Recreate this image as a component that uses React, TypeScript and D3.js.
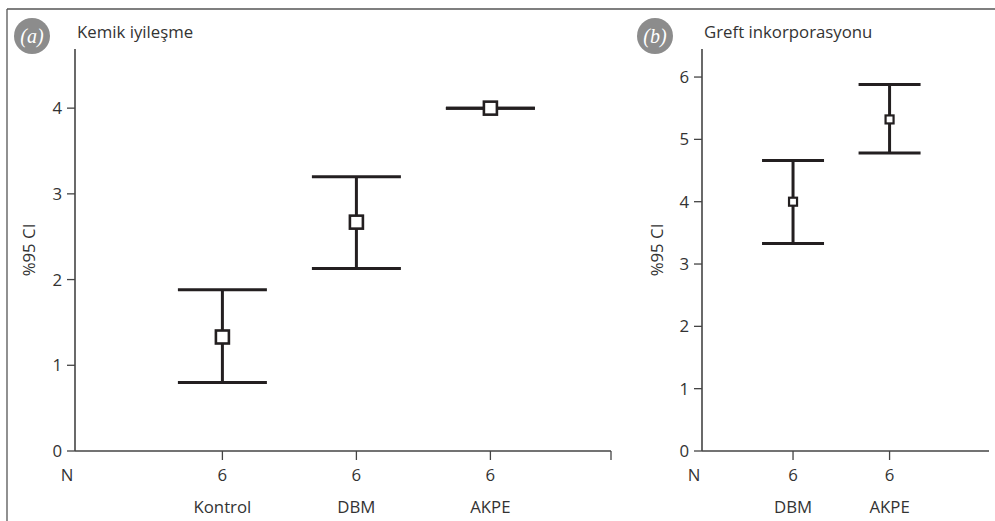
import React, { useEffect, useRef } from 'react';
import * as d3 from 'd3';

// panel (a) Kemik iyileşme
const catsA = ['Kontrol', 'DBM', 'AKPE'];
const nA = [6, 6, 6];
const meanA = [1.33, 2.67, 4.0];
const lowA = [0.8, 2.13, 4.0];
const highA = [1.88, 3.2, 4.0];
const ticksA = [0, 1, 2, 3, 4];

// panel (b) Greft inkorporasyonu
const catsB = ['DBM', 'AKPE'];
const nB = [6, 6];
const meanB = [4.0, 5.32];
const lowB = [3.33, 4.78];
const highB = [4.66, 5.88];
const ticksB = [0, 1, 2, 3, 4, 5, 6];

const FONT = '"Open Sans", "Noto Sans", sans-serif';
const FS = 16.8;
const AXIS = '#444';
const INK = '#231f20';

function drawPanel(svg, p) {
    let g = svg.append('g');

    let x = d3.scaleLinear().domain(p.xDomain).range([p.left, p.right]);
    let y = d3.scaleLinear().domain(p.yDomain).range([p.bottom, p.top]);

    // badge
    g.append('circle')
        .attr('cx', p.badgeX).attr('cy', 36).attr('r', 18)
        .attr('fill', '#8c8c8c');
    g.append('text')
        .attr('x', p.badgeX).attr('y', 43)
        .attr('text-anchor', 'middle')
        .attr('font-family', 'Liberation Serif, serif')
        .attr('font-style', 'italic')
        .attr('font-size', 20)
        .attr('fill', '#fff')
        .text(p.badge);

    // title
    g.append('text')
        .attr('x', p.left + 2).attr('y', 38)
        .attr('font-family', FONT).attr('font-size', FS).attr('fill', '#333')
        .text(p.title);

    // y axis
    g.append('line')
        .attr('x1', p.left).attr('x2', p.left)
        .attr('y1', p.top).attr('y2', p.bottom)
        .attr('stroke', AXIS).attr('stroke-width', 1.6);
    p.yTicks.forEach(t => {
        g.append('line')
            .attr('x1', p.left - 8).attr('x2', p.left)
            .attr('y1', y(t)).attr('y2', y(t))
            .attr('stroke', AXIS).attr('stroke-width', 1.3);
        g.append('text')
            .attr('x', p.left - 13).attr('y', y(t) + 6)
            .attr('text-anchor', 'end')
            .attr('font-family', FONT).attr('font-size', FS).attr('fill', '#333')
            .text(t);
    });
    g.append('text')
        .attr('transform', 'translate(' + p.yLabelX + ',' + (p.bottom + p.top) / 2 + ') rotate(-90)')
        .attr('text-anchor', 'middle')
        .attr('font-family', FONT).attr('font-size', FS).attr('fill', '#333')
        .text('%95 CI');

    // x axis
    g.append('line')
        .attr('x1', p.left).attr('x2', p.right)
        .attr('y1', p.bottom).attr('y2', p.bottom)
        .attr('stroke', AXIS).attr('stroke-width', 1.6);
    if (p.endTick) {
        g.append('line')
            .attr('x1', p.right).attr('x2', p.right)
            .attr('y1', p.bottom).attr('y2', p.bottom + 9)
            .attr('stroke', AXIS).attr('stroke-width', 1.3);
    }
    g.append('text')
        .attr('x', p.left - 8).attr('y', p.bottom + 30)
        .attr('text-anchor', 'middle')
        .attr('font-family', FONT).attr('font-size', FS).attr('fill', '#333')
        .text('N');

    p.cats.forEach((c, i) => {
        let cx = x(i + 1);
        g.append('line')
            .attr('x1', cx).attr('x2', cx)
            .attr('y1', p.bottom).attr('y2', p.bottom + 9)
            .attr('stroke', AXIS).attr('stroke-width', 1.3);
        g.append('text')
            .attr('x', cx).attr('y', p.bottom + 30)
            .attr('text-anchor', 'middle')
            .attr('font-family', FONT).attr('font-size', FS).attr('fill', '#333')
            .text(p.n[i]);
        g.append('text')
            .attr('x', cx).attr('y', p.bottom + 62)
            .attr('text-anchor', 'middle')
            .attr('font-family', FONT).attr('font-size', FS).attr('fill', '#333')
            .text(c);

        // error bar
        let bar = g.append('g').attr('stroke', INK).attr('stroke-width', 3);
        bar.append('line')
            .attr('x1', cx).attr('x2', cx)
            .attr('y1', y(p.high[i])).attr('y2', y(p.low[i]));
        bar.append('line')
            .attr('x1', cx - p.cap).attr('x2', cx + p.cap)
            .attr('y1', y(p.high[i])).attr('y2', y(p.high[i]));
        bar.append('line')
            .attr('x1', cx - p.cap).attr('x2', cx + p.cap)
            .attr('y1', y(p.low[i])).attr('y2', y(p.low[i]));
        bar.append('rect')
            .attr('x', cx - p.box / 2).attr('y', y(p.mean[i]) - p.box / 2)
            .attr('width', p.box).attr('height', p.box)
            .attr('fill', '#fff').attr('stroke-width', p.boxStroke);
    });
}

export default function App() {
    const ref = useRef(null);

    useEffect(() => {
        let svg = d3.select(ref.current);
        svg.selectAll('*').remove();

        // frame (top and left edges only)
        svg.append('line')
            .attr('x1', 7).attr('x2', 995).attr('y1', 9).attr('y2', 9)
            .attr('stroke', '#555').attr('stroke-width', 1.3);
        svg.append('line')
            .attr('x1', 7).attr('x2', 7).attr('y1', 9).attr('y2', 521)
            .attr('stroke', '#555').attr('stroke-width', 1.3);

        drawPanel(svg, {
            cats: catsA, n: nA, mean: meanA, low: lowA, high: highA, yTicks: ticksA,
            xDomain: [-0.1, 3.9], yDomain: [0, 4.69],
            left: 75, right: 611, top: 49, bottom: 451,
            cap: 44.5, box: 13, boxStroke: 2.6, endTick: true,
            badge: '(a)', badgeX: 32, title: 'Kemik iyileşme', yLabelX: 35
        });

        drawPanel(svg, {
            cats: catsB, n: nB, mean: meanB, low: lowB, high: highB, yTicks: ticksB,
            xDomain: [0.057, 3.03], yDomain: [0, 6.45],
            left: 702, right: 989, top: 49, bottom: 451,
            cap: 31, box: 8, boxStroke: 2.2, endTick: false,
            badge: '(b)', badgeX: 655, title: 'Greft inkorporasyonu', yLabelX: 663
        });
    }, []);

    return (
        <svg ref={ref} width={995} height={521}
            style={{ position: 'absolute', left: 0, top: 0, background: '#fff' }} />
    );
}
